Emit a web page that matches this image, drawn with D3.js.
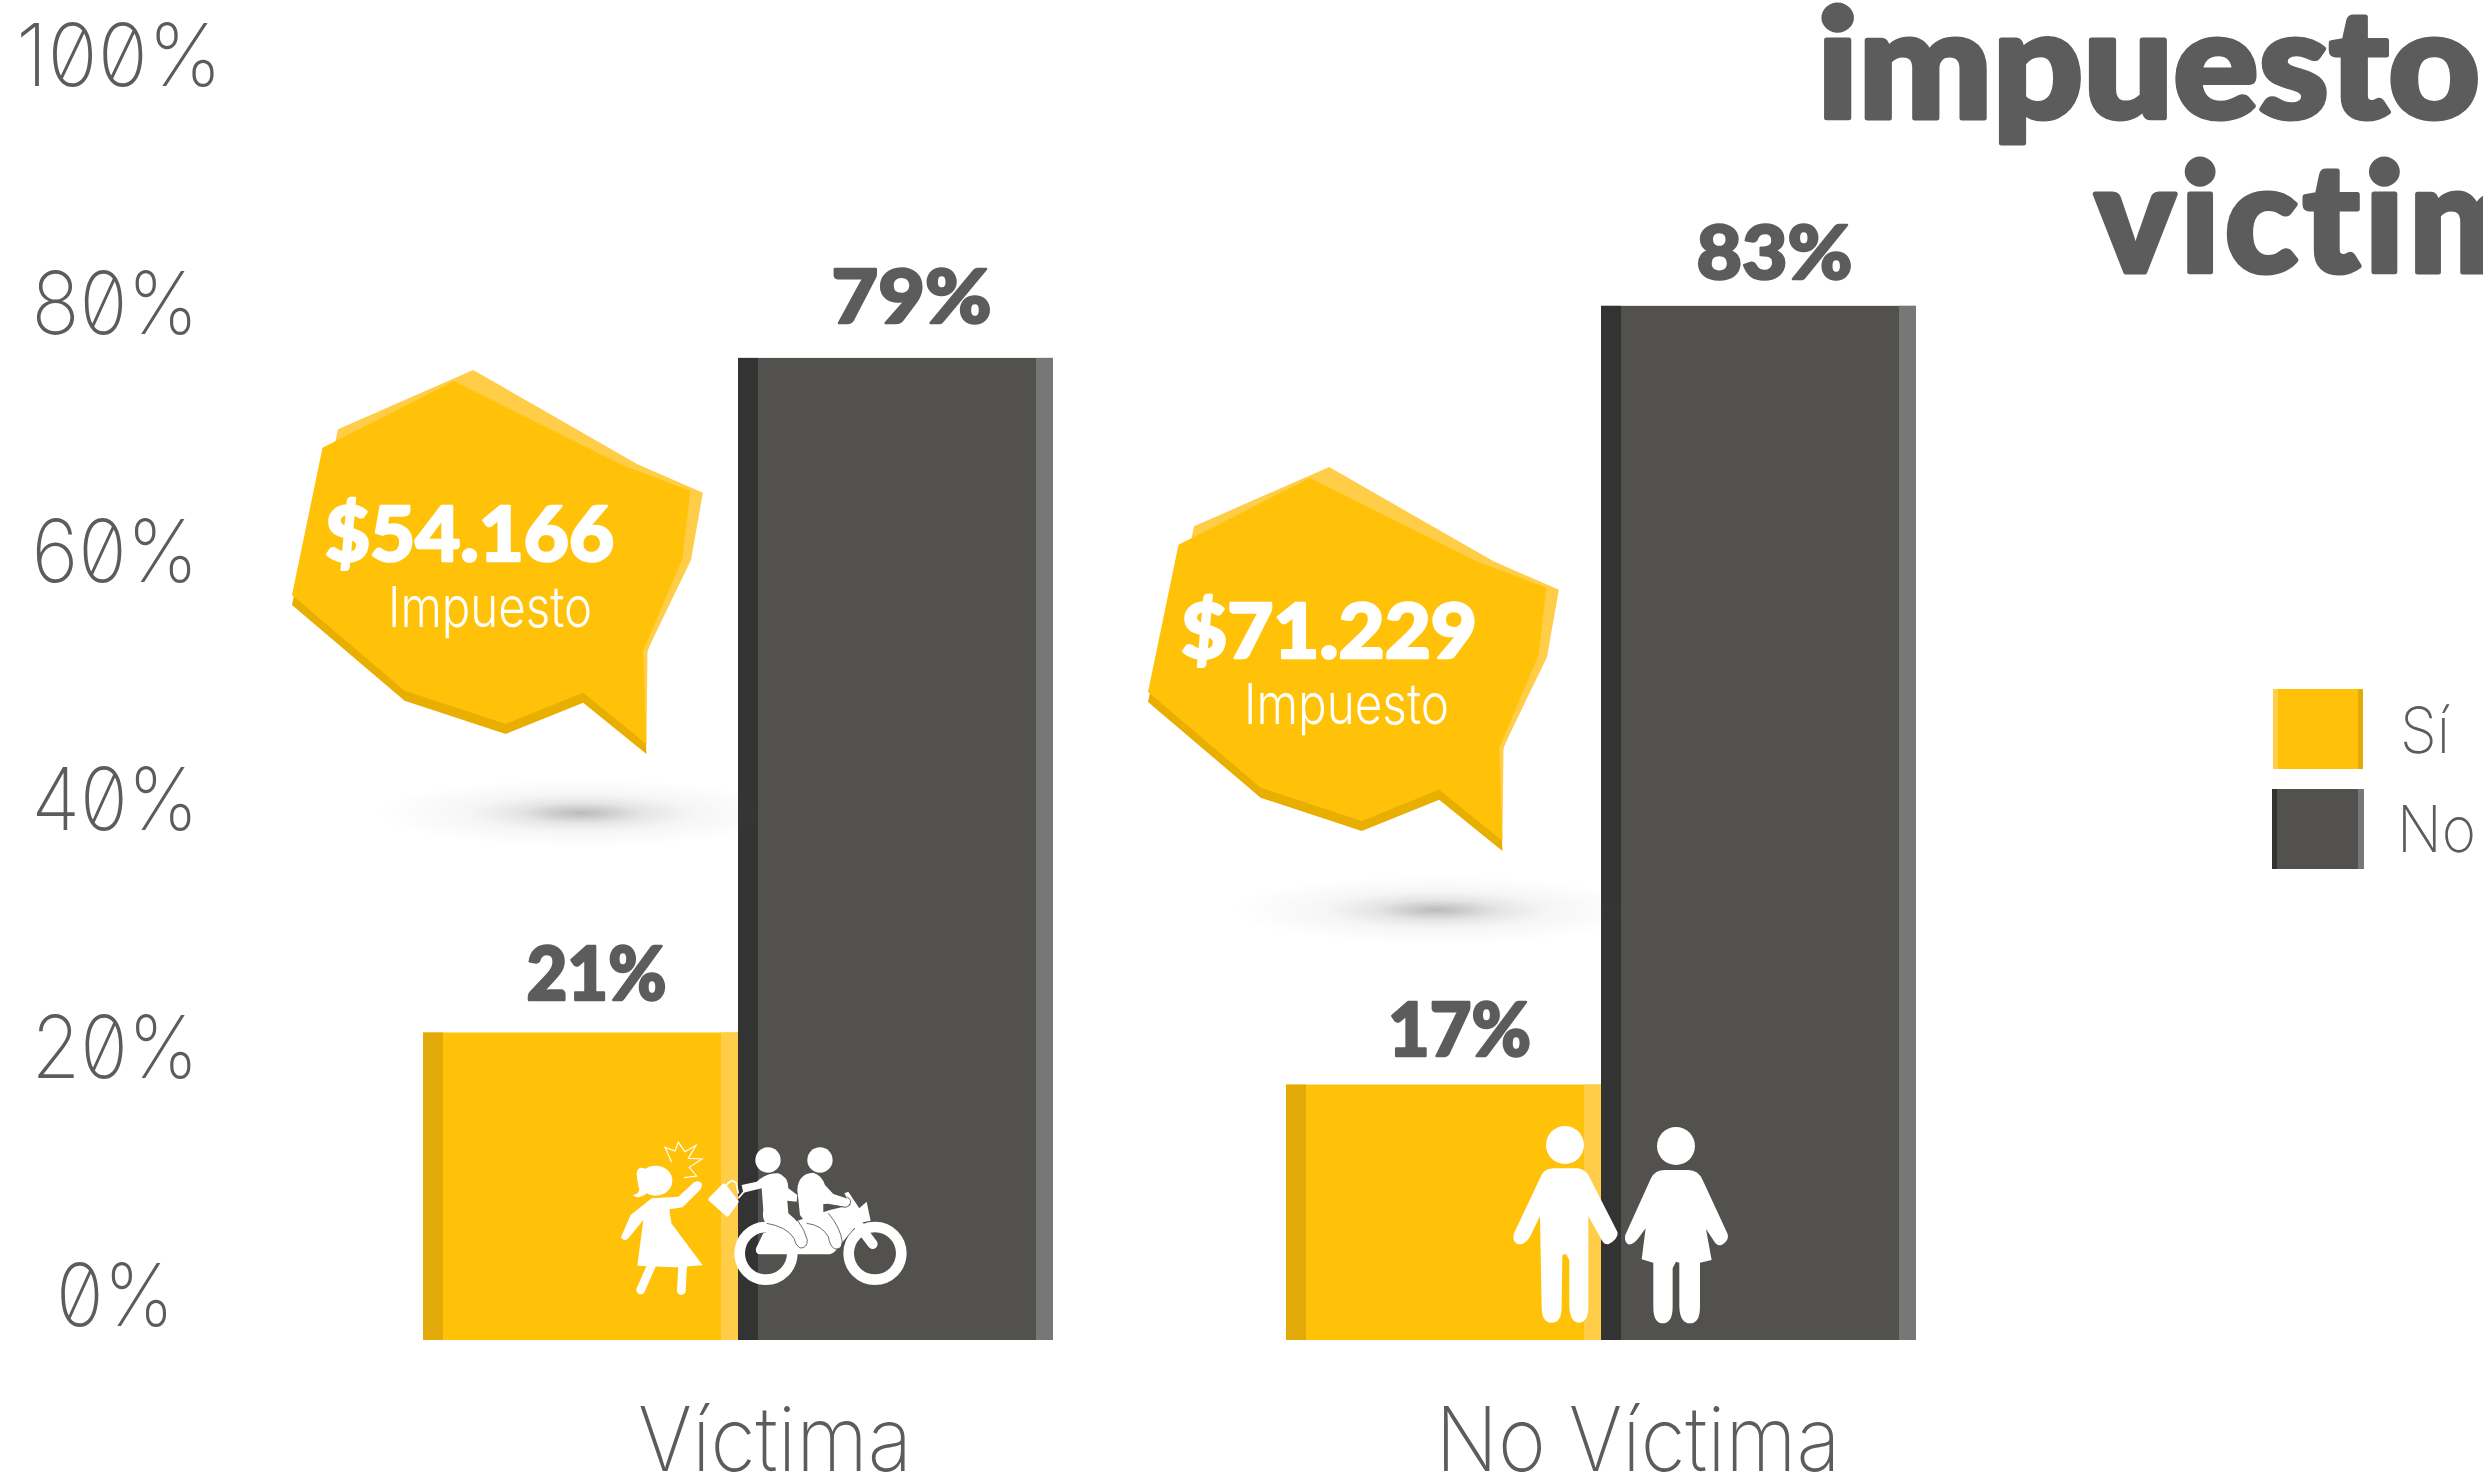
<!DOCTYPE html>
<html>
<head>
<meta charset="utf-8">
<script src="https://cdn.jsdelivr.net/npm/d3@7/dist/d3.min.js"></script>
<style>
html,body{margin:0;padding:0;background:#fff;overflow:hidden}
svg{display:block}
.thin{font-family:Inter,Roboto,sans-serif;font-weight:150;fill:#5c5c5c}
.bold{font-family:Lato,sans-serif;font-weight:900;fill:#5c5c5c;font-variant-ligatures:none;stroke-linejoin:round}
</style>
</head>
<body>
<svg id="c" width="2483" height="1478"></svg>
<script>
// ---- data ----
const categories = ["Víctima", "No Víctima"];
const seriesNames = ["Sí", "No"];
const siLabels = [21, 17];          // printed percentages
const noLabels = [79, 83];
const siDrawn = [24.8, 20.6];       // height the yellow bars actually have on the axis
const noDrawn = [79.2, 83.4];
const yTicks = [0, 20, 40, 60, 80, 100];
const taxes = ["$54.166", "$71.229"];
const taxCaption = "Impuesto";
const titleLines = ["impuesto", "victima"];

// ---- palette ----
const C = {si:"#FFC209", siL:"#FFCD48", siD:"#E2AB0A", siB:"#E8AE00",
           no:"#52514E", noL:"#777777", noD:"#333333", txt:"#5C5C5C"};

const svg = d3.select("#c");
const y = d3.scaleLinear().domain([0,100]).range([1340,100]);
const x = d3.scaleBand().domain(categories).range([423,1916]).paddingInner(0.27);
const xs = d3.scaleBand().domain(seriesNames).range([0,x.bandwidth()]);

const rows = categories.flatMap((c,i)=>[
  {c,i,s:"Sí",v:siDrawn[i],lab:siLabels[i],fill:C.si,l:C.siD,r:C.siL,lw:20,rw:17,tw:i?143:140,dy:i?29:32},
  {c,i,s:"No",v:noDrawn[i],lab:noLabels[i],fill:C.no,l:C.noD,r:C.noL,lw:20,rw:17,tw:i?156:160,dy:i?27:35}
]);

// ---- axes ----
const yAxis = svg.append("g").attr("transform","translate(115,0)")
  .call(d3.axisLeft(y).tickValues(yTicks).tickSize(0).tickPadding(0).tickFormat(d=>d+"%"));
yAxis.select(".domain").remove();
yAxis.selectAll("text").attr("class","thin")
  .attr("x",d=>d===100?4:0).attr("y",-15).attr("dy",0).attr("text-anchor","middle")
  .style("font-size","87px").style("font-feature-settings",'"zero"')
  .attr("textLength",d=>d===100?206:d===0?118:167).attr("lengthAdjust","spacingAndGlyphs");

const xAxis = svg.append("g").attr("transform","translate(37,1471)")
  .call(d3.axisBottom(x).tickSize(0).tickPadding(0));
xAxis.select(".domain").remove();
xAxis.selectAll("text").attr("class","thin")
  .attr("y",0).attr("dy",0).attr("text-anchor","middle")
  .style("font-size","89px")
  .attr("textLength",(d,i)=>i?405:274).attr("lengthAdjust","spacingAndGlyphs");

// ---- bars ----
const g = svg.append("g");
rows.forEach(d=>{
  const bx = x(d.c)+xs(d.s), bw = xs.bandwidth(), by = y(d.v), bh = y(0)-y(d.v);
  g.append("rect").attr("x",bx).attr("y",by).attr("width",bw).attr("height",bh).attr("fill",d.fill);
  g.append("rect").attr("x",bx).attr("y",by).attr("width",d.lw).attr("height",bh).attr("fill",d.l);
  g.append("rect").attr("x",bx+bw-d.rw).attr("y",by).attr("width",d.rw).attr("height",bh).attr("fill",d.r);
});
svg.append("g").selectAll("text").data(rows).join("text").attr("class","bold")
  .attr("x",d=>x(d.c)+xs(d.s)+xs.bandwidth()/2+16)
  .attr("y",d=>y(d.v)-d.dy)
  .attr("text-anchor","middle").style("font-size","74px")
  .attr("stroke","#5c5c5c").attr("stroke-width",2.5)
  .attr("textLength",d=>d.tw).attr("lengthAdjust","spacingAndGlyphs")
  .text(d=>d.lab+"%");

// ---- shadow gradient ----
const defs = svg.append("defs");
const rg = defs.append("radialGradient").attr("id","sh");
[[0,.52],[.12,.4],[.3,.2],[.55,.07],[1,0]].forEach(([o,a])=>
  rg.append("stop").attr("offset",o).attr("stop-color","#7d7d7d").attr("stop-opacity",a));

// ---- speech bubbles (outline in bubble-local pixels) ----
const mainPts = [[322.5,447.7],[454,381],[624.3,466],[690.4,490.7],[682.5,558.3],[643.2,650.7],[646.4,744],[583.2,692.7],[505.7,724],[404.6,690.7],[292,595]];
const lightPts = [[334,448],[338,429.3],[473.2,370],[637.5,464.3],[702.9,492.7],[691,560],[647.5,650],[646.4,744],[600,600]];
const bubbleShift = [[0,0],[856,97]];
categories.forEach((c,i)=>{
  const b = svg.append("g").attr("transform",`translate(${bubbleShift[i]})`);
  b.append("ellipse").attr("cx",581).attr("cy",813).attr("rx",205).attr("ry",34).attr("fill","url(#sh)");
  b.append("polygon").attr("points",mainPts.map(p=>[p[0],p[1]+10].join()).join(" ")).attr("fill",C.siB);
  b.append("polygon").attr("points",lightPts.join(" ")).attr("fill",C.siL);
  b.append("polygon").attr("points",mainPts.join(" ")).attr("fill",C.si);
  b.append("text").attr("x",325).attr("y",560.7).attr("class","bold").style("fill","#fff")
    .attr("stroke","#fff").attr("stroke-width",2.5)
    .style("font-size","77px").attr("textLength",i?296:289).attr("lengthAdjust","spacingAndGlyphs").text(taxes[i]);
  b.append("text").attr("x",388).attr("y",627).attr("class","thin").style("fill","#fff").style("font-weight",300)
    .style("font-size","56px").attr("textLength",i?205:204).attr("lengthAdjust","spacingAndGlyphs").text(taxCaption);
});

// ---- pictograms ----
const w = "#fff";
const ic1 = svg.append("g").attr("transform","translate(610,1130) scale(.3333)");
ic1.append("ellipse").attr("cx",137).attr("cy",152).attr("rx",50).attr("ry",45).attr("fill",w);
ic1.append("path").attr("fill",w).attr("d","M108,118 Q85,105 80,130 Q82,160 88,178 Q85,195 68,195 Q85,210 108,192 Z");
ic1.append("path").attr("fill",w).attr("d","M125,205 L205,200 L252,157 Q268,148 276,162 Q277,172 270,180 L218,232 L178,238 L184,280 L278,406 L195,412 L82,407 L100,270 L55,325 Q42,338 33,322 L62,255 Z");
ic1.append("path").attr("stroke",w).attr("stroke-width",26).attr("stroke-linecap","round").attr("fill","none").attr("d","M125,405 L92,480 M218,405 L214,482");
ic1.append("path").attr("stroke",w).attr("stroke-width",3.5).attr("fill","none").attr("d","M185,97 L165,52 L195,63 L205,37 L225,65 L258,46 L235,85 L276,87 L238,112 L260,138 L222,143");
ic1.append("path").attr("fill",w).attr("stroke",w).attr("stroke-width",14).attr("stroke-linejoin","round").attr("d","M302,208 L342,168 L379,215 L352,252 Z");
ic1.append("path").attr("fill","none").attr("stroke",w).attr("stroke-width",5).attr("d","M350,165 Q362,145 378,158 L385,190 M385,205 L402,185");
ic1.selectAll("circle.w").data([[468,370],[795,370]]).join("circle")
  .attr("cx",d=>d[0]).attr("cy",d=>d[1]).attr("r",79).attr("fill","none").attr("stroke",w).attr("stroke-width",32);
ic1.append("path").attr("fill",w).attr("d","M460,310 L438,355 Q436,372 450,373 L660,373 Q675,368 682,355 L745,280 L782,272 L770,215 L748,235 L715,185 L703,190 L722,225 L660,240 L540,280 Z");
ic1.append("path").attr("stroke",w).attr("stroke-width",30).attr("stroke-linecap","round").attr("d","M745,285 L788,342");
ic1.append("circle").attr("cx",474).attr("cy",90).attr("r",38).attr("fill",w);
ic1.append("circle").attr("cx",630).attr("cy",90).attr("r",38).attr("fill",w);
ic1.append("path").attr("fill",w).attr("d","M562,180 Q565,130 610,128 Q635,135 645,165 L670,192 L718,208 Q728,225 705,230 L650,222 L640,222 L640,245 Q690,280 695,335 Q695,360 675,355 Q660,350 655,320 Q635,285 590,282 L570,255 Z");
ic1.append("path").attr("fill",w).attr("d","M395,165 L440,155 Q470,128 505,130 Q535,140 535,175 L562,195 L560,215 L532,212 L535,250 Q580,285 590,330 Q590,355 570,352 Q555,345 552,325 Q530,290 470,280 Q455,270 460,240 L455,175 L400,188 Z");
ic1.append("path").attr("fill","none").attr("stroke",C.no).attr("stroke-width",2.5).attr("d","M470,280 Q530,290 552,325 Q555,345 570,354 Q592,355 592,330 Q585,300 562,270 M590,280 Q635,285 655,320 Q660,350 675,357 Q697,360 697,335 Q690,290 655,250 M650,222 L705,232 Q722,230 722,212 L712,200");

const ic2 = svg.append("g").attr("transform","translate(1490,1110) scale(.3333)");
ic2.append("circle").attr("cx",225).attr("cy",105).attr("r",57).attr("fill",w);
ic2.append("circle").attr("cx",558).attr("cy",108).attr("r",57).attr("fill",w);
ic2.append("path").attr("fill",w).attr("d","M150,205 Q160,175 190,175 L265,175 Q290,180 300,205 L382,365 Q388,385 355,403 Q340,405 330,380 L295,318 L295,590 Q295,638 265,638 Q240,635 238,590 L238,450 L228,432 L217,435 L215,590 Q215,638 185,638 Q155,638 155,590 L150,318 L120,380 Q105,405 85,403 Q65,395 72,370 Z");
ic2.append("path").attr("fill",w).attr("d","M483,205 Q495,180 525,180 L595,180 Q625,180 638,210 L712,370 Q720,390 695,405 Q680,410 670,390 L648,357 L665,450 L630,458 L630,590 Q630,640 600,640 Q570,640 568,590 L568,458 L558,455 L548,475 L548,590 Q548,640 518,640 Q490,640 490,590 L490,458 L455,448 L467,355 L445,385 Q430,405 415,403 Q402,395 406,375 Z");

// ---- legend ----
const leg = svg.append("g");
[{fill:C.si,l:C.siL,r:C.siD,x:2273,w:90,y:689,lw:5,rw:5,tx:2400,tw:50,ty:753},
 {fill:C.no,l:C.noD,r:C.noL,x:2272,w:92,y:789,lw:5,rw:6,tx:2397,tw:79,ty:852}].forEach((d,i)=>{
  leg.append("rect").attr("x",d.x).attr("y",d.y).attr("width",d.w).attr("height",80).attr("fill",d.fill);
  leg.append("rect").attr("x",d.x).attr("y",d.y).attr("width",d.lw).attr("height",80).attr("fill",d.l);
  leg.append("rect").attr("x",d.x+d.w-d.rw).attr("y",d.y).attr("width",d.rw).attr("height",80).attr("fill",d.r);
  leg.append("text").attr("class","thin").attr("x",d.tx).attr("y",d.ty).style("font-size","64px")
    .attr("textLength",d.tw).attr("lengthAdjust","spacingAndGlyphs").text(seriesNames[i]);
});

// ---- title (runs off the right edge in the original) ----
svg.append("text").attr("class","bold").attr("x",1817).attr("y",118).style("font-size","151px")
  .attr("stroke","#5c5c5c").attr("stroke-width",5)
  .attr("textLength",663).attr("lengthAdjust","spacingAndGlyphs").text(titleLines[0]);
svg.append("text").attr("class","bold").attr("x",2095).attr("y",272).style("font-size","151px")
  .attr("stroke","#5c5c5c").attr("stroke-width",5).attr("letter-spacing",5)
  .text(titleLines[1]);
</script>
</body>
</html>
